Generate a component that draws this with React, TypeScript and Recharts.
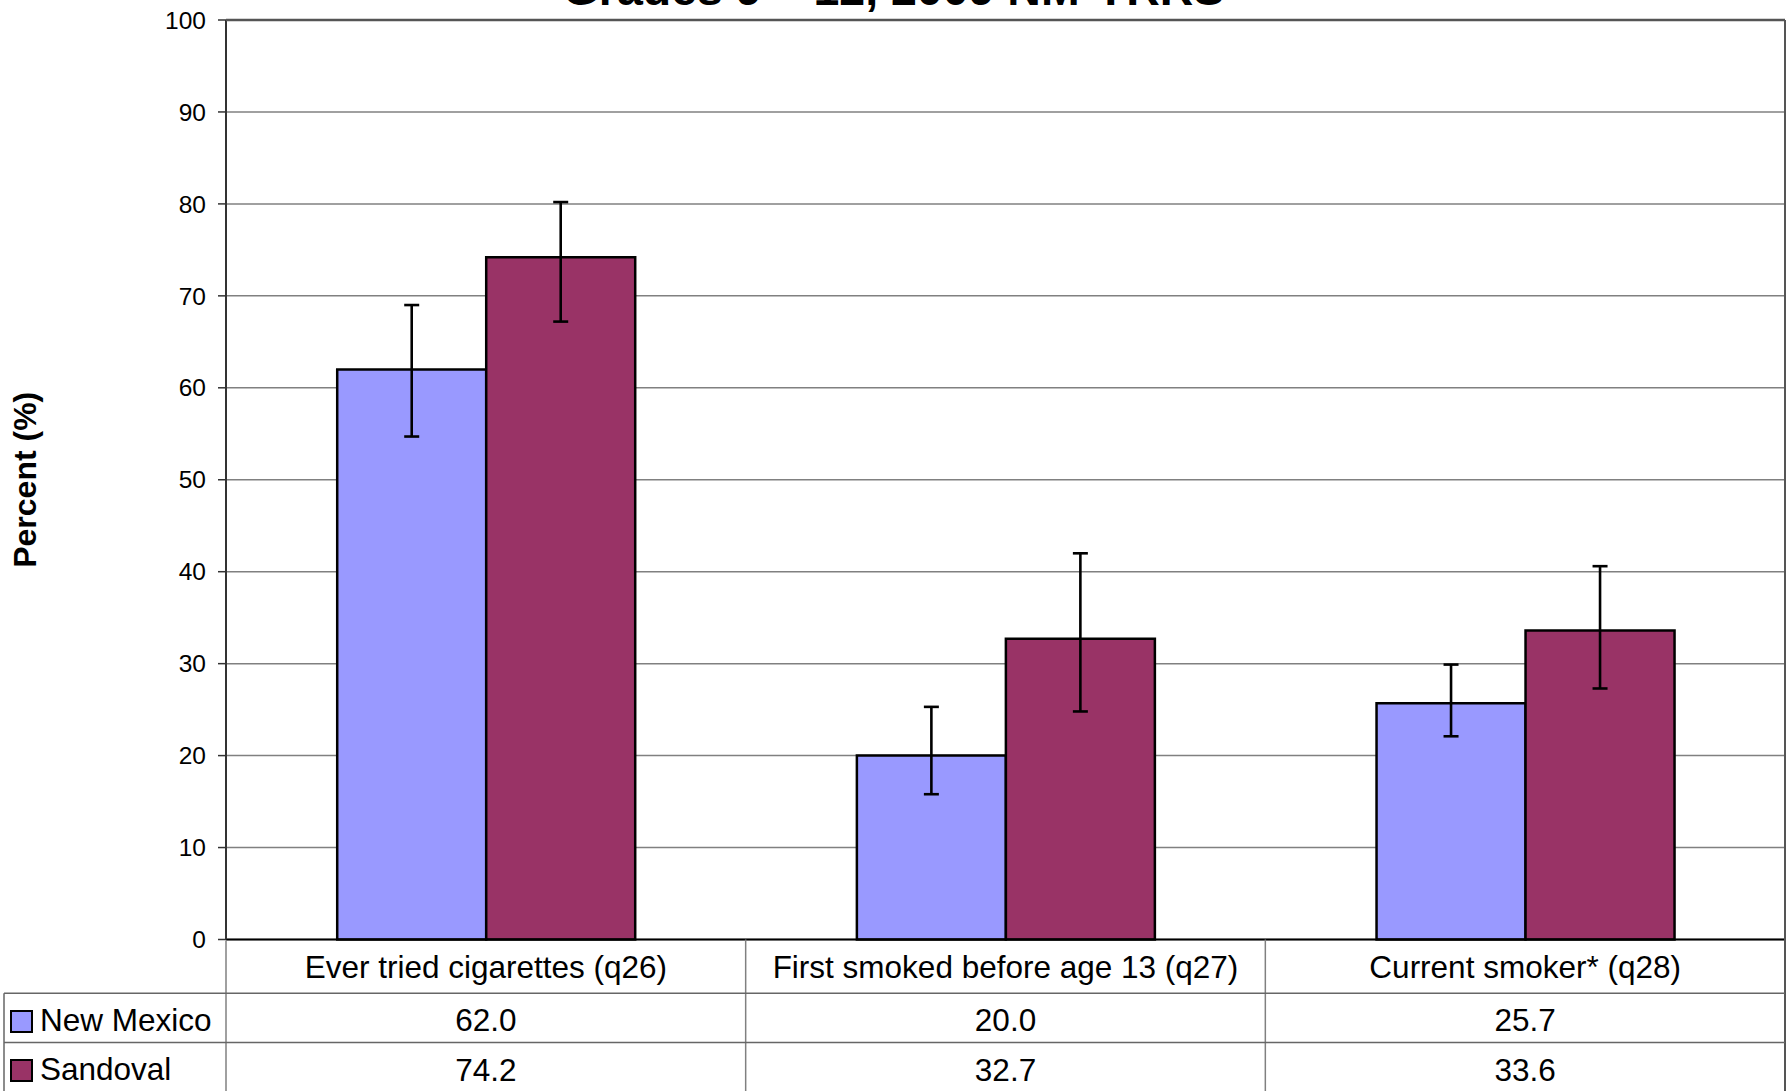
import { BarChart, Bar, XAxis, YAxis, CartesianGrid, ErrorBar } from 'recharts';

const categories = ['Ever tried cigarettes (q26)', 'First smoked before age 13 (q27)', 'Current smoker* (q28)'];
const newMexico = [62.0, 20.0, 25.7];
const newMexicoLow = [54.7, 15.8, 22.1];
const newMexicoHigh = [69.0, 25.3, 29.9];
const sandoval = [74.2, 32.7, 33.6];
const sandovalLow = [67.2, 24.8, 27.3];
const sandovalHigh = [80.2, 42.0, 40.6];
const yTicks = [0, 10, 20, 30, 40, 50, 60, 70, 80, 90, 100];

const W = 1787;
const H = 1091;
const LEFT = 226;
const TOP = 20;
const RIGHT = 1785;
const BOTTOM = 939.5;
const FONT = '"Liberation Sans", Arial, sans-serif';
const NM_COLOR = '#9999FF';
const SAN_COLOR = '#993366';

const data = categories.map((name, i) => ({
  name,
  nm: newMexico[i],
  nmErr: [newMexico[i] - newMexicoLow[i], newMexicoHigh[i] - newMexico[i]],
  san: sandoval[i],
  sanErr: [sandoval[i] - sandovalLow[i], sandovalHigh[i] - sandoval[i]],
}));

// category labels and the value rows of the data table under the plot
function TableTick(props: any) {
  const { x, y, payload } = props;
  const i = categories.indexOf(payload.value);
  return (
    <g fontFamily={FONT} fontSize={31.5} fill="#000">
      <text x={x} y={y + 38.5} textAnchor="middle">{categories[i]}</text>
      <text x={x} y={y + 91} textAnchor="middle">{newMexico[i].toFixed(1)}</text>
      <text x={x} y={y + 141} textAnchor="middle">{sandoval[i].toFixed(1)}</text>
    </g>
  );
}

export default function App() {
  const band = (RIGHT - LEFT) / categories.length;
  return (
    <div style={{ position: 'absolute', left: 0, top: 0, width: W, height: H, overflow: 'hidden', background: '#fff' }}>
      <BarChart
        width={W}
        height={H}
        data={data}
        margin={{ top: TOP, right: W - RIGHT, bottom: 0, left: 0 }}
        barCategoryGap="21.4%"
        barGap={0}
      >
        <CartesianGrid vertical={false} stroke="#808080" strokeWidth={1.5} />
        <XAxis
          dataKey="name"
          height={H - BOTTOM}
          tickLine={false}
          tickSize={0}
          tickMargin={0}
          axisLine={{ stroke: '#000', strokeWidth: 2 }}
          tick={<TableTick />}
          interval={0}
        />
        <YAxis
          width={LEFT}
          domain={[0, 100]}
          ticks={yTicks}
          interval={0}
          tickSize={8}
          tickMargin={12}
          axisLine={{ stroke: '#333', strokeWidth: 2 }}
          tickLine={{ stroke: '#333', strokeWidth: 1.5 }}
          tick={{ fill: '#000', fontSize: 24.5, fontFamily: FONT }}
        />
        <Bar dataKey="nm" fill={NM_COLOR} stroke="#000" strokeWidth={2.5} isAnimationActive={false}>
          <ErrorBar dataKey="nmErr" width={7.5} stroke="#000" strokeWidth={2.6} direction="y" isAnimationActive={false} />
        </Bar>
        <Bar dataKey="san" fill={SAN_COLOR} stroke="#000" strokeWidth={2.5} isAnimationActive={false}>
          <ErrorBar dataKey="sanErr" width={7.5} stroke="#000" strokeWidth={2.6} direction="y" isAnimationActive={false} />
        </Bar>
      </BarChart>
      <svg width={W} height={H} style={{ position: 'absolute', left: 0, top: 0, pointerEvents: 'none' }}>
        <text x={W / 2} y={5} textAnchor="middle" fontFamily={FONT} fontWeight="bold" fontSize={46.5} fill="#000">
          Grades 9 – 12, 2009 NM-YRRS
        </text>
        <text
          x={0}
          y={0}
          transform={`translate(36, ${(TOP + BOTTOM) / 2}) rotate(-90)`}
          textAnchor="middle"
          fontFamily={FONT}
          fontWeight="bold"
          fontSize={32}
          fill="#000"
        >
          Percent (%)
        </text>
        <line x1={LEFT} y1={TOP} x2={RIGHT} y2={TOP} stroke="#555" strokeWidth={2.5} />
        <line x1={RIGHT} y1={TOP} x2={RIGHT} y2={H} stroke="#555" strokeWidth={2} />
        <line x1={LEFT} y1={BOTTOM + 1} x2={LEFT} y2={H} stroke="#808080" strokeWidth={1.5} />
        {[1, 2].map((k) => (
          <line key={k} x1={LEFT + band * k} y1={BOTTOM} x2={LEFT + band * k} y2={H} stroke="#808080" strokeWidth={1.5} />
        ))}
        <line x1={4} y1={993.3} x2={RIGHT} y2={993.3} stroke="#666" strokeWidth={1.5} />
        <line x1={4} y1={1042.5} x2={RIGHT} y2={1042.5} stroke="#666" strokeWidth={1.5} />
        <line x1={4} y1={993.3} x2={4} y2={H} stroke="#666" strokeWidth={1.5} />
        <rect x={11} y={1011} width={21} height={21} fill={NM_COLOR} stroke="#000" strokeWidth={2} />
        <text x={40} y={1031} fontFamily={FONT} fontSize={31.5} fill="#000">New Mexico</text>
        <rect x={11} y={1060} width={21} height={21} fill={SAN_COLOR} stroke="#000" strokeWidth={2} />
        <text x={40} y={1080} fontFamily={FONT} fontSize={31.5} fill="#000">Sandoval</text>
      </svg>
    </div>
  );
}
